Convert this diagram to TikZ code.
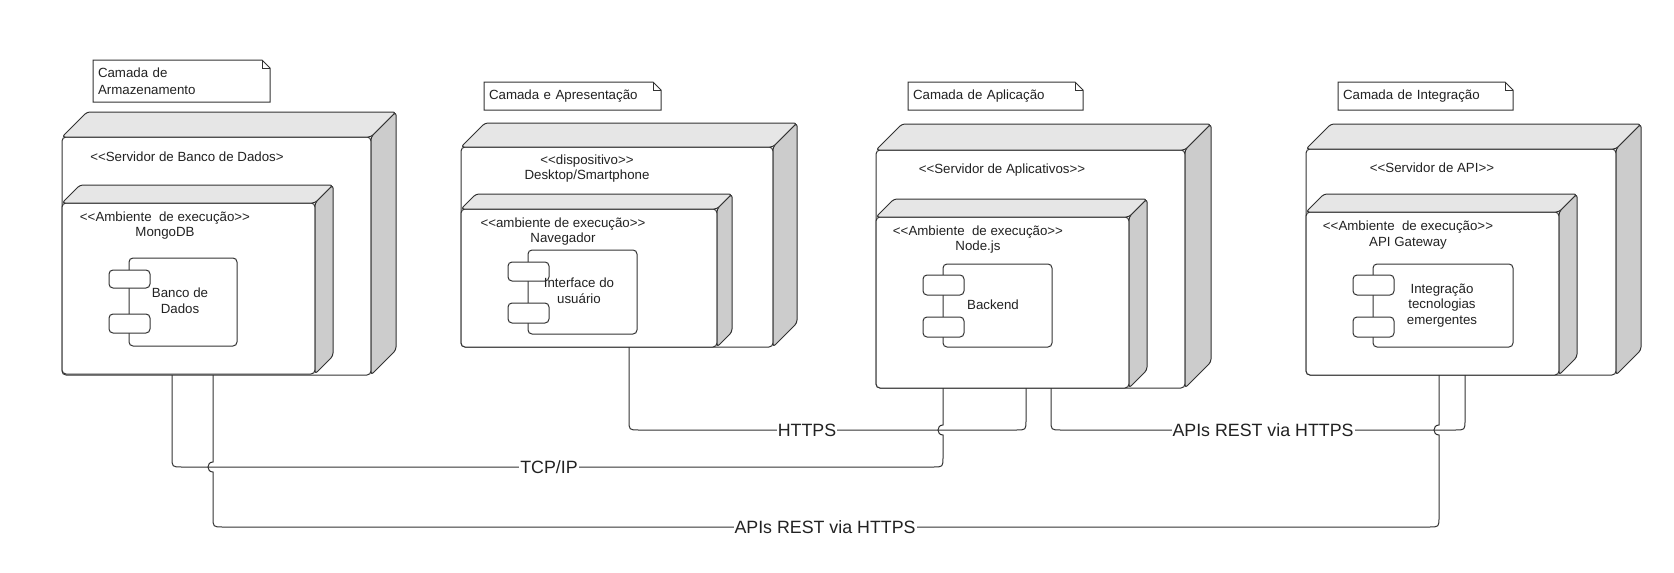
\documentclass[tikz,border=0pt]{standalone}
\usepackage{fontspec}
\setmainfont{Liberation Sans}[Ligatures=TeXOff]
\definecolor{ln}{HTML}{333333}
\definecolor{tx}{HTML}{222222}
\definecolor{topg}{HTML}{E6E6E6}
\definecolor{sideg}{HTML}{CCCCCC}
\tikzset{
  front/.style={draw=ln, fill=white, line width=1pt, rounded corners=4pt, inner sep=0pt, outer sep=0pt},
  face/.style={draw=ln, line width=1pt, rounded corners=3pt, line join=round},
  comp/.style={draw=ln, fill=white, line width=1pt, rounded corners=4pt, inner sep=0pt, outer sep=0pt, anchor=north west},
  port/.style={draw=ln, fill=white, line width=1pt, rounded corners=4pt, inner sep=0pt, outer sep=0pt, anchor=north west, minimum width=41pt},
  lbl/.style={font=\fontsize{13.3}{15.5}\selectfont, text=tx, align=center, inner sep=0pt},
  notetext/.style={font=\fontsize{13.3}{16.5}\selectfont, text=tx, align=left, inner xsep=5pt, inner ysep=0pt, outer sep=0pt, anchor=north west},
  noteline/.style={draw=ln, line width=1pt, line join=miter},
  conn/.style={draw=ln, line width=1pt},
  clabel/.style={font=\fontsize{17.8}{20}\selectfont, text=tx, fill=white, inner xsep=1pt, inner ysep=0pt}
}
\newcommand\DepBox[6]{%
  \node[front, minimum width=#4pt, minimum height=#5pt, anchor=north west] (#1) at (#2,#3) {};
  \draw[face, fill=topg] (#1.north west) -- ++(#6pt,#6pt) -- ([shift={(#6pt,#6pt)}]#1.north east) -- (#1.north east) -- cycle;
  \draw[face, fill=sideg] (#1.north east) -- ++(#6pt,#6pt) -- ([shift={(#6pt,#6pt)}]#1.south east) -- (#1.south east) -- cycle;
}
\newcommand\NoteBox[6]{%
  \pgfmathsetmacro\notetw{#4-10}%
  \node[notetext, text width=\notetw pt, minimum height=#5pt] (#1) at (#2,#3) {#6};
  \draw[noteline] (#1.north west) -- ([xshift=-8pt]#1.north east) -- ([yshift=-8pt]#1.north east) -- (#1.south east) -- (#1.south west) -- cycle;
  \draw[noteline] ([xshift=-8pt]#1.north east) -- ([shift={(-8pt,-8pt)}]#1.north east) -- ([yshift=-8pt]#1.north east);
}
\begin{document}
\begin{tikzpicture}[x=1pt, y=-1pt]
\fill[white] (0,0) rectangle (1674,573);
\useasboundingbox (0,0) rectangle (1674,573);

% notes
\NoteBox{noteA}{93}{60}{177}{42}{Camada de\\Armazenamento}
\NoteBox{noteB}{484}{82}{177}{28}{Camada e Apresentação}
\NoteBox{noteC}{908}{82}{175}{28}{Camada de Aplicação}
\NoteBox{noteD}{1338}{82}{175}{28}{Camada de Integração}

% nodes (3D boxes)
\DepBox{srvA}{62}{137}{309}{238}{25}
\DepBox{envA}{62}{203}{253}{171}{18}
\DepBox{srvB}{461}{147}{312}{200}{24}
\DepBox{envB}{461}{209}{256}{138}{15}
\DepBox{srvC}{876}{150}{309}{238}{26}
\DepBox{envC}{876}{217}{253}{171}{18}
\DepBox{srvD}{1306}{149}{310}{226}{25}
\DepBox{envD}{1306}{212}{253}{163}{18}

% stereotype labels
\node[lbl] (srvAl) at (187,157) {<<Servidor de Banco de Dados>};
\node[lbl] (envAl) at (165,225.5) {<<Ambiente~ de execução>>\\MongoDB};
\node[lbl] (srvBl) at (587,168.5) {<<dispositivo>>\\Desktop/Smartphone};
\node[lbl] (envBl) at (563,231.5) {<<ambiente de execução>>\\Navegador};
\node[lbl] (srvCl) at (1002,170) {<<Servidor de Aplicativos>>};
\node[lbl] (envCl) at (978,239.5) {<<Ambiente~ de execução>>\\Node.js};
\node[lbl] (srvDl) at (1432,168) {<<Servidor de API>>};
\node[lbl] (envDl) at (1408,235) {<<Ambiente~ de execução>>\\API Gateway};

% components
\node[comp, minimum width=108pt, minimum height=88pt] (cmpA) at (129,258) {};
\node[port, minimum height=18pt] (cmpAp1) at (109,270) {};
\node[port, minimum height=19pt] (cmpAp2) at (109,314) {};
\node[lbl] (cmpAt) at (180,300.5) {Banco de\\Dados};

\node[comp, minimum width=109pt, minimum height=84pt] (cmpB) at (528,250) {};
\node[port, minimum height=19pt] (cmpBp1) at (508,262) {};
\node[port, minimum height=20pt] (cmpBp2) at (508,303) {};
\node[lbl] (cmpBt) at (579,290.5) {Interface do\\usuário};

\node[comp, minimum width=109pt, minimum height=83pt] (cmpC) at (943,264) {};
\node[port, minimum height=20pt] (cmpCp1) at (923,275) {};
\node[port, minimum height=20pt] (cmpCp2) at (923,317) {};
\node[lbl] (cmpCt) at (993,305) {Backend};

\node[comp, minimum width=140pt, minimum height=83pt] (cmpD) at (1373,264) {};
\node[port, minimum height=20pt] (cmpDp1) at (1353,275) {};
\node[port, minimum height=20pt] (cmpDp2) at (1353,317) {};
\node[lbl] (cmpDt) at (1442,305.5) {Integração\\tecnologias\\emergentes};

% connector end points
\coordinate (tcpA) at ([xshift=110pt]srvA.south west);
\coordinate (tcpC) at ([xshift=67pt]srvC.south west);
\coordinate (httpB) at ([xshift=168pt]srvB.south west);
\coordinate (httpC) at ([xshift=150pt]srvC.south west);
\coordinate (apiC) at ([xshift=175pt]srvC.south west);
\coordinate (apiD1) at ([xshift=159pt]srvD.south west);
\coordinate (apiA) at ([xshift=151pt]srvA.south west);
\coordinate (apiD2) at ([xshift=133pt]srvD.south west);

% TCP/IP
\draw[conn] (tcpA) -- (172,457) .. controls (172,467) .. (182,467) -- (933,467)
  .. controls (943,467) .. (943,457) -- (943,435)
  .. controls (936.3,435) and (936.3,425) .. (943,425) -- (tcpC);
% HTTPS
\draw[conn] (httpB) -- (629,420) .. controls (629,430) .. (639,430) -- (1016,430)
  .. controls (1026,430) .. (1026,420) -- (httpC);
% APIs REST (upper)
\draw[conn] (apiC) -- (1051,420) .. controls (1051,430) .. (1061,430) -- (1455,430)
  .. controls (1465,430) .. (1465,420) -- (apiD1);
% APIs REST (lower)
\draw[conn] (apiA) -- (213,462) .. controls (206.3,462) and (206.3,472) .. (213,472)
  -- (213,517) .. controls (213,527) .. (223,527) -- (1429,527)
  .. controls (1439,527) .. (1439,517) -- (1439,435)
  .. controls (1432.3,435) and (1432.3,425) .. (1439,425) -- (apiD2);

% connector labels
\node[clabel] (lblTcp) at (549,467) {TCP/IP};
\node[clabel] (lblHttps) at (807,430) {HTTPS};
\node[clabel] (lblApi1) at (1263,430) {APIs REST via HTTPS};
\node[clabel] (lblApi2) at (825,527) {APIs REST via HTTPS};
\end{tikzpicture}
\end{document}
